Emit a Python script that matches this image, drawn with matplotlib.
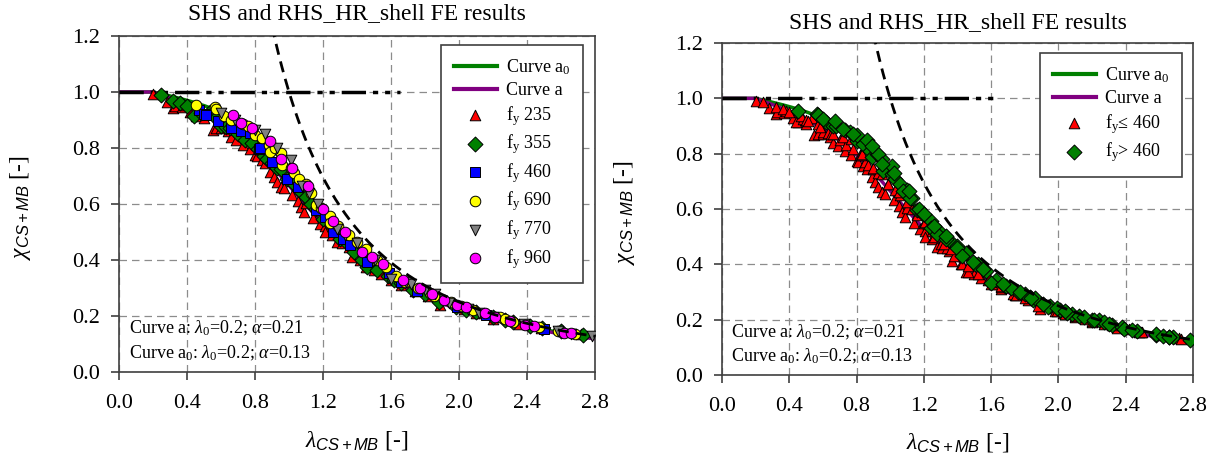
import numpy as np
import matplotlib
matplotlib.use("Agg")
import matplotlib.pyplot as plt

plt.rcParams["font.family"] = ["Liberation Serif", "DejaVu Serif"]
plt.rcParams["mathtext.fontset"] = "custom"
plt.rcParams["mathtext.rm"] = "Liberation Serif"
plt.rcParams["mathtext.it"] = "Liberation Serif:italic"
plt.rcParams["mathtext.sf"] = "Liberation Sans:italic"

# Buckling curve parameters (EN 1993-1-1)
lambda_0 = 0.2
alpha_a = 0.21
alpha_a0 = 0.13

# FE results per yield strength: slenderness and reduction factor
fy235_lam = [0.20, 0.28, 0.32, 0.33, 0.37, 0.38, 0.42, 0.45, 0.50, 0.55, 0.57, 0.60, 0.64, 0.66,
             0.69, 0.73, 0.77, 0.80, 0.81, 0.84, 0.86, 0.89, 0.91, 0.93, 0.95, 0.97, 1.02, 1.05,
             1.07, 1.09, 1.10, 1.14, 1.18, 1.21, 1.21, 1.25, 1.28, 1.31, 1.35, 1.37, 1.42, 1.45,
             1.50, 1.54, 1.60, 1.66, 1.74, 1.82, 1.89, 2.03, 2.10, 2.20, 2.35, 2.48, 2.72]
fy235_chi = [0.992, 0.965, 0.943, 0.950, 0.948, 0.955, 0.930, 0.915, 0.906, 0.866, 0.870, 0.870,
             0.861, 0.840, 0.829, 0.810, 0.795, 0.775, 0.770, 0.757, 0.745, 0.715, 0.698, 0.680,
             0.662, 0.656, 0.632, 0.610, 0.590, 0.570, 0.602, 0.550, 0.529, 0.521, 0.499, 0.490,
             0.463, 0.460, 0.448, 0.412, 0.400, 0.374, 0.364, 0.350, 0.330, 0.311, 0.290, 0.270,
             0.239, 0.225, 0.210, 0.190, 0.170, 0.157, 0.135]

fy355_lam = [0.245, 0.32, 0.36, 0.40, 0.44, 0.48, 0.535, 0.57, 0.60, 0.63, 0.65, 0.70, 0.74, 0.78,
             0.82, 0.85, 0.87, 0.90, 0.93, 0.95, 0.99, 1.03, 1.06, 1.10, 1.13, 1.16, 1.20, 1.25,
             1.30, 1.34, 1.38, 1.43, 1.46, 1.52, 1.58, 1.62, 1.66, 1.73, 1.80, 1.88, 1.98, 2.04,
             2.10, 2.20, 2.27, 2.32, 2.42, 2.49, 2.60, 2.73]
fy355_chi = [0.988, 0.969, 0.960, 0.951, 0.916, 0.925, 0.930, 0.906, 0.880, 0.875, 0.870, 0.850,
             0.830, 0.818, 0.795, 0.770, 0.760, 0.745, 0.730, 0.725, 0.690, 0.670, 0.650, 0.625,
             0.600, 0.581, 0.548, 0.520, 0.474, 0.460, 0.430, 0.400, 0.374, 0.365, 0.343, 0.330,
             0.318, 0.293, 0.280, 0.250, 0.232, 0.220, 0.215, 0.196, 0.185, 0.180, 0.165, 0.157,
             0.145, 0.132]

fy460_lam = [0.47, 0.50, 0.51, 0.58, 0.66, 0.72, 0.77, 0.825, 0.83, 0.90, 0.99, 1.05, 1.16, 1.21,
             1.26, 1.32, 1.36, 1.46, 1.59, 1.66, 1.75, 1.99, 2.16, 2.50]
fy460_chi = [0.936, 0.920, 0.918, 0.895, 0.870, 0.860, 0.852, 0.796, 0.800, 0.750, 0.691, 0.660,
             0.579, 0.552, 0.500, 0.474, 0.454, 0.394, 0.352, 0.323, 0.290, 0.233, 0.204, 0.155]

fy690_lam = [0.45, 0.565, 0.57, 0.62, 0.66, 0.73, 0.76, 0.80, 0.84, 0.88, 0.89, 0.92, 0.95, 0.96,
             1.01, 1.03, 1.06, 1.10, 1.13, 1.16, 1.19, 1.24, 1.24, 1.29, 1.35, 1.40, 1.45, 1.52,
             1.57, 1.63, 1.68, 1.76, 1.83, 1.85, 1.95, 2.01, 2.08, 2.24, 2.27, 2.32, 2.47, 2.58,
             2.68]
fy690_chi = [0.955, 0.945, 0.941, 0.914, 0.900, 0.885, 0.879, 0.845, 0.835, 0.811, 0.787, 0.800,
             0.781, 0.739, 0.727, 0.709, 0.690, 0.670, 0.641, 0.596, 0.585, 0.557, 0.533, 0.520,
             0.489, 0.465, 0.440, 0.400, 0.376, 0.343, 0.320, 0.300, 0.283, 0.271, 0.250, 0.236,
             0.221, 0.198, 0.191, 0.180, 0.160, 0.145, 0.136]

fy770_lam = [0.60, 0.68, 0.80, 0.86, 0.93, 1.01, 1.075, 1.12, 1.17, 1.28, 1.33, 1.40, 1.505, 1.60,
             1.69, 1.72, 1.80, 1.86, 1.94, 2.05, 2.12, 2.20, 2.38, 2.58, 2.66, 2.78]
fy770_chi = [0.924, 0.900, 0.866, 0.850, 0.800, 0.757, 0.664, 0.640, 0.600, 0.509, 0.490, 0.460,
             0.400, 0.331, 0.320, 0.316, 0.293, 0.280, 0.245, 0.225, 0.212, 0.198, 0.172, 0.148,
             0.137, 0.127]

fy960_lam = [0.67, 0.72, 0.78, 0.89, 0.95, 1.02, 1.11, 1.20, 1.26, 1.33, 1.43, 1.49, 1.55, 1.67,
             1.77, 1.84, 1.91, 1.99, 2.04, 2.15, 2.21, 2.30, 2.39, 2.44, 2.62, 2.66]
fy960_chi = [0.918, 0.890, 0.870, 0.826, 0.762, 0.730, 0.664, 0.581, 0.540, 0.501, 0.430, 0.410,
             0.384, 0.329, 0.299, 0.280, 0.257, 0.241, 0.232, 0.209, 0.198, 0.183, 0.168, 0.164,
             0.140, 0.138]

x_ticks = [0.0, 0.4, 0.8, 1.2, 1.6, 2.0, 2.4, 2.8]
y_ticks = [0.0, 0.2, 0.4, 0.6, 0.8, 1.0, 1.2]
title = "SHS and RHS_HR_shell FE results"


def buckling_curve(lam, alpha):
    phi = 0.5 * (1 + alpha * (lam - lambda_0) + lam ** 2)
    chi = 1.0 / (phi + np.sqrt(phi ** 2 - lam ** 2))
    return np.where(lam <= lambda_0, 1.0, np.minimum(chi, 1.0))


def draw_panel(ax, groups, legend_anchor, note_sub, title_pad):
    lam = np.linspace(0.0, 2.8, 300)
    ax.plot(lam, buckling_curve(lam, alpha_a0), color="#008000", lw=2.5, zorder=2,
            label="Curve a$_0$")
    ax.plot(lam, buckling_curve(lam, alpha_a), color="#800080", lw=2.5, zorder=2,
            label="Curve a")
    ax.plot([0.0, 1.65], [1.0, 1.0], color="black", lw=2.5,
            dashes=(7, 2, 1.5, 2, 1.5, 2), zorder=3)
    lam_e = np.linspace(0.9, 2.8, 200)
    ax.plot(lam_e, 1.0 / lam_e ** 2, color="black", lw=2, dashes=(4, 2.5), zorder=5)

    for lx, cy, marker, color, label in groups:
        ax.scatter(lx, cy, marker=marker, s=58, facecolor=color, edgecolor="black",
                   linewidths=0.7, zorder=4, label=label)

    ax.set_xlim(0.0, 2.8)
    ax.set_ylim(0.0, 1.2)
    ax.set_xticks(x_ticks)
    ax.set_yticks(y_ticks)
    ax.xaxis.set_major_formatter(matplotlib.ticker.FormatStrFormatter("%.1f"))
    ax.yaxis.set_major_formatter(matplotlib.ticker.FormatStrFormatter("%.1f"))
    ax.tick_params(axis="both", direction="out", length=6, width=1.2, labelsize=16,
                   color="#404040")
    ax.tick_params(axis="x", pad=10)
    ax.tick_params(axis="y", pad=8)
    ax.grid(True, color="#8c8c8c", lw=0.9, dashes=(6, 4))
    ax.set_axisbelow(True)
    for sp in ax.spines.values():
        sp.set_color("#404040")
        sp.set_linewidth(1.2)

    ax.set_title(title, fontsize=17, pad=title_pad)
    ax.set_xlabel(r"$\lambda_{\mathsf{CS+MB}}$ [-]", fontsize=17)
    ax.set_ylabel(r"$\chi_{\mathsf{CS+MB}}$ [-]", fontsize=17)
    ax.xaxis.set_label_coords(0.5, -0.17)
    ax.yaxis.set_label_coords(-0.18, 0.49)

    ax.text(0.02, 0.13, r"Curve a: $\lambda_" + note_sub + r"$=0.2; $\alpha$=0.21",
            transform=ax.transAxes, fontsize=13, va="center")
    ax.text(0.02, 0.055, r"Curve a$_0$: $\lambda_" + note_sub + r"$=0.2; $\alpha$=0.13",
            transform=ax.transAxes, fontsize=13, va="center")

    leg = ax.legend(loc="upper right", bbox_to_anchor=legend_anchor, borderaxespad=0,
                    fontsize=13, frameon=True, fancybox=False, edgecolor="#404040",
                    framealpha=1, handlelength=2.4, handletextpad=0.5, labelspacing=0.26,
                    borderpad=0.7, scatterpoints=1)
    leg.get_frame().set_linewidth(1.2)
    for line in leg.get_lines():
        line.set_linewidth(3)


fig = plt.figure(figsize=(12.21, 4.65), dpi=100)
ax1 = fig.add_axes([0.0975, 0.2, 0.3898, 0.7226])
ax2 = fig.add_axes([0.5913, 0.1935, 0.3857, 0.714])

left_groups = [
    (fy235_lam, fy235_chi, "^", "#ff0000", "f$_\\mathrm{y}$ 235"),
    (fy355_lam, fy355_chi, "D", "#008000", "f$_\\mathrm{y}$ 355"),
    (fy460_lam, fy460_chi, "s", "#0000ff", "f$_\\mathrm{y}$ 460"),
    (fy690_lam, fy690_chi, "o", "#ffff00", "f$_\\mathrm{y}$ 690"),
    (fy770_lam, fy770_chi, "v", "#808080", "f$_\\mathrm{y}$ 770"),
    (fy960_lam, fy960_chi, "o", "#ff00ff", "f$_\\mathrm{y}$ 960"),
]
draw_panel(ax1, left_groups, (0.975, 0.973), "0", 12)

# Right panel groups the same results by yield strength threshold
low_lam = fy235_lam + fy355_lam + fy460_lam
low_chi = fy235_chi + fy355_chi + fy460_chi
high_lam = fy690_lam + fy770_lam + fy960_lam
high_chi = fy690_chi + fy770_chi + fy960_chi
right_groups = [
    (low_lam, low_chi, "^", "#ff0000", "f$_\\mathrm{y}$≤ 460"),
    (high_lam, high_chi, "D", "#008000", "f$_\\mathrm{y}$> 460"),
]
draw_panel(ax2, right_groups, (0.977, 0.97), "{0}", 11)

fig.savefig("out.png", dpi=100)
